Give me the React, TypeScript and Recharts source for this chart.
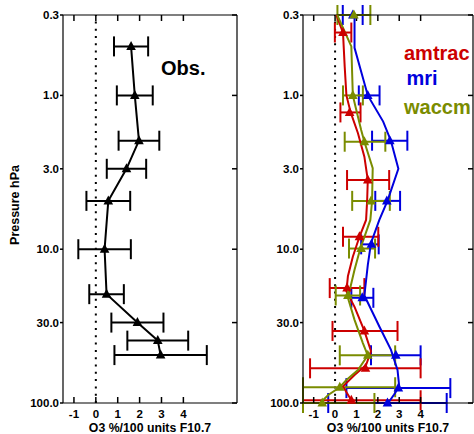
import React from 'react';
import { ScatterChart, Scatter, XAxis, YAxis, ErrorBar, ReferenceLine } from 'recharts';

const FONT = '"Liberation Sans", Arial, Helvetica, sans-serif';

// axes
const xTicks = [-1, 0, 1, 2, 3, 4];
const pTicks = [0.3, 1, 3, 10, 30, 100];
const pTickLabels = ['0.3', '1.0', '3.0', '10.0', '30.0', '100.0'];

// Observations (left panel)
const obsP = [0.48, 1.0, 1.97, 3.0, 4.85, 10, 19.6, 30, 39.3, 48.8];
const obsV = [1.61, 1.78, 1.97, 1.4, 0.57, 0.4, 0.49, 1.9, 2.83, 2.96];
const obsErr = [0.78, 0.82, 0.93, 0.9, 1.0, 1.2, 0.79, 1.19, 1.39, 2.11];

// Model profile lines (right panel)
const mriLineP = [0.3, 0.49, 1.0, 1.48, 1.97, 3.0, 4.85, 6.45, 9.1, 12.7, 20, 31.8, 45, 61, 78, 88, 98, 100];
const mriLineV = [0.91, 0.91, 1.53, 2.25, 2.61, 2.96, 2.45, 2.07, 1.68, 1.53, 1.37, 2.07, 2.61, 2.92, 3.0, 2.76, 2.53, 2.45];
const amtracLineP = [0.3, 0.39, 0.65, 1.0, 1.29, 1.76, 2.5, 3.55, 4.8, 6.45, 8.3, 11.2, 15, 18.8, 23.7, 34, 46, 56.6, 65.8, 78, 96];
const amtracLineV = [0.06, 0.37, 0.45, 0.53, 0.73, 1.07, 1.37, 1.53, 1.5, 1.45, 1.14, 0.83, 0.6, 0.53, 0.91, 1.37, 1.68, 1.45, 0.91, 0.37, 0.76];
const waccmLineP = [0.3, 0.48, 1.0, 1.24, 1.68, 2.0, 2.97, 4.85, 6.45, 10, 13.6, 20.7, 28.8, 40.8, 49, 61, 70.8, 79, 88.7, 98, 100];
const waccmLineV = [0.1, 0.76, 0.83, 0.99, 1.22, 1.37, 1.76, 1.73, 1.65, 1.17, 0.91, 0.6, 0.91, 1.3, 1.53, 1.07, 0.53, 0.22, -0.32, -0.63, -0.66];

// Model markers with error bars [minus, plus]
const mriMarkP = [0.3, 1.0, 1.97, 4.85, 9.3, 20.7, 49, 80, 100];
const mriMarkV = [0.83, 1.53, 2.56, 2.42, 1.7, 1.27, 2.84, 2.96, 2.45];
const mriMarkErr = [[0.47, 0.46], [0.42, 0.55], [0.83, 0.82], [0.54, 0.62], [0.48, 0.34], [0.51, 0.52], [1.16, 1.16], [2.43, 2.43], [2.77, 2.77]];
const amtracMarkP = [0.39, 1.29, 3.55, 8.3, 17.9, 34, 59.5, 96];
const amtracMarkV = [0.37, 0.68, 1.53, 1.14, 0.56, 1.37, 1.42, 0.76];
const amtracMarkErr = [[0.38, 0.39], [0.43, 0.51], [0.97, 1.0], [0.77, 0.88], [0.81, 0.81], [1.49, 1.55], [2.59, 2.58], [2.26, 3.24]];
const waccmMarkP = [0.3, 1.0, 2.0, 4.85, 9.9, 20, 49, 79, 100];
const waccmMarkV = [0.88, 0.83, 1.37, 1.68, 1.22, 0.6, 1.53, 0.22, -0.6];
const waccmMarkErr = [[0.77, 0.77], [0.46, 0.47], [0.92, 0.98], [0.88, 0.88], [0.57, 0.65], [0.57, 0.57], [1.31, 1.28], [1.72, 2.59], [0.9, 2.44]];

const RED = '#cc0000';
const BLUE = '#0000dd';
const OLIVE = '#7a8c00';

const toPts = (ps: number[], vs: number[], errs?: any[]) =>
  ps.map((p, i) => ({ p, v: vs[i], e: errs ? errs[i] : 0 }));

const obsData = toPts(obsP, obsV, obsErr);
const mriLine = toPts(mriLineP, mriLineV);
const amtracLine = toPts(amtracLineP, amtracLineV);
const waccmLine = toPts(waccmLineP, waccmLineV);
const mriMarks = toPts(mriMarkP, mriMarkV, mriMarkErr);
const amtracMarks = toPts(amtracMarkP, amtracMarkV, amtracMarkErr);
const waccmMarks = toPts(waccmMarkP, waccmMarkV, waccmMarkErr);

const tickText = { fontFamily: FONT, fontWeight: 'bold' as const, fontSize: 11.5, fill: '#000' };

const BottomTick = (props: any) => {
  const { x, y, payload } = props;
  return (
    <text x={x} y={y + 12} textAnchor="middle" {...tickText}>{String(payload.value)}</text>
  );
};
const EmptyTick = () => <g />;
const LeftTick = (props: any) => {
  const { x, y, payload } = props;
  const idx = pTicks.indexOf(payload.value);
  return (
    <text x={x} y={y + 4} textAnchor="end" {...tickText}>{idx >= 0 ? pTickLabels[idx] : ''}</text>
  );
};

const makeTri = (color: string) => (props: any) => {
  const { cx, cy } = props;
  if (cx == null || cy == null) return <g />;
  return <polygon points={`${cx},${cy - 5.5} ${cx - 4.8},${cy + 3.5} ${cx + 4.8},${cy + 3.5}`} fill={color} />;
};
const NoDot = () => <g />;

const xLabel = {
  value: 'O3 %/100 units F10.7',
  position: 'insideBottom' as const,
  offset: 2,
  fill: '#000',
  fontSize: 12.3,
  fontWeight: 'bold',
  fontFamily: FONT,
};

const axisLine = { stroke: '#000', strokeWidth: 1.2 };
const tickLine = { stroke: '#000', strokeWidth: 1.5 };

function renderAxes() {
  return [
    <XAxis key="xb" xAxisId="b" type="number" dataKey="v" domain={[-1.5, 6.45]} ticks={xTicks}
      height={31} tickSize={-6} tickMargin={9} tickLine={tickLine} tick={<BottomTick />}
      axisLine={axisLine} label={xLabel} interval={0} />,
    <XAxis key="xt" xAxisId="t" orientation="top" type="number" dataKey="v" domain={[-1.5, 6.45]} ticks={xTicks}
      allowDataOverflow height={1} tickSize={-6} tickMargin={0} tickLine={tickLine} tick={<EmptyTick />}
      axisLine={axisLine} interval={0} />,
    <YAxis key="yl" yAxisId="l" type="number" dataKey="p" scale="log" domain={[0.3, 100]} reversed
      ticks={pTicks} width={63} tickSize={3} tickMargin={1} tickLine={tickLine} tick={<LeftTick />}
      axisLine={axisLine} interval={0} />,
    <YAxis key="yr" yAxisId="r" orientation="right" type="number" dataKey="p" scale="log" domain={[0.3, 100]} reversed
      allowDataOverflow ticks={pTicks} width={1} tickSize={-5} tickMargin={0} tickLine={tickLine} tick={<EmptyTick />}
      axisLine={axisLine} interval={0} />,
    <Scatter key="frame" data={obsData} xAxisId="t" yAxisId="r" isAnimationActive={false} shape={NoDot} fill="none" />,
    <ReferenceLine key="zero" xAxisId="b" yAxisId="l" x={0} stroke="#000" strokeWidth={2} strokeDasharray="2 5.3" />,
  ];
}

export default function App() {
  return (
    <div style={{ position: 'absolute', left: 0, top: 0, width: 474, height: 434, background: '#fff' }}>
      <div style={{ position: 'absolute', left: 0, top: 0 }}>
        <ScatterChart width={238} height={434} margin={{ top: 14, right: 0, bottom: 0, left: 0 }}>
          {renderAxes()}
          <Scatter data={obsData} xAxisId="b" yAxisId="l" isAnimationActive={false}
            line={{ stroke: '#000', strokeWidth: 2 }} shape={makeTri('#000')} fill="#000">
            <ErrorBar dataKey="e" direction="x" width={10} stroke="#000" strokeWidth={2} isAnimationActive={false} />
          </Scatter>
        </ScatterChart>
      </div>
      <div style={{ position: 'absolute', left: 240, top: 0 }}>
        <ScatterChart width={234} height={434} margin={{ top: 14, right: 0, bottom: 0, left: 0 }}>
          {renderAxes()}
          <Scatter data={mriLine} xAxisId="b" yAxisId="l" isAnimationActive={false}
            line={{ stroke: BLUE, strokeWidth: 2 }} shape={NoDot} fill={BLUE} />
          <Scatter data={amtracLine} xAxisId="b" yAxisId="l" isAnimationActive={false}
            line={{ stroke: RED, strokeWidth: 2 }} shape={NoDot} fill={RED} />
          <Scatter data={waccmLine} xAxisId="b" yAxisId="l" isAnimationActive={false}
            line={{ stroke: OLIVE, strokeWidth: 2 }} shape={NoDot} fill={OLIVE} />
          <Scatter data={mriMarks} xAxisId="b" yAxisId="l" isAnimationActive={false}
            shape={makeTri(BLUE)} fill={BLUE}>
            <ErrorBar dataKey="e" direction="x" width={10} stroke={BLUE} strokeWidth={2} isAnimationActive={false} />
          </Scatter>
          <Scatter data={amtracMarks} xAxisId="b" yAxisId="l" isAnimationActive={false}
            shape={makeTri(RED)} fill={RED}>
            <ErrorBar dataKey="e" direction="x" width={10} stroke={RED} strokeWidth={2} isAnimationActive={false} />
          </Scatter>
          <Scatter data={waccmMarks} xAxisId="b" yAxisId="l" isAnimationActive={false}
            shape={makeTri(OLIVE)} fill={OLIVE}>
            <ErrorBar dataKey="e" direction="x" width={10} stroke={OLIVE} strokeWidth={2} isAnimationActive={false} />
          </Scatter>
        </ScatterChart>
      </div>
      <svg width={474} height={434} style={{ position: 'absolute', left: 0, top: 0, pointerEvents: 'none' }}>
        <text transform="translate(18.5,205) rotate(-90)" textAnchor="middle" fontFamily={FONT}
          fontWeight="bold" fontSize={12.5} fill="#000">Pressure hPa</text>
        <text x={161} y={75} fontFamily={FONT} fontWeight="bold" fontSize={20} fill="#000">Obs.</text>
        <text x={404} y={59.5} fontFamily={FONT} fontWeight="bold" fontSize={20} fill={RED}>amtrac</text>
        <text x={406.5} y={85} fontFamily={FONT} fontWeight="bold" fontSize={20} fill={BLUE}>mri</text>
        <text x={404} y={114} fontFamily={FONT} fontWeight="bold" fontSize={20} fill={OLIVE}>waccm</text>
      </svg>
    </div>
  );
}
